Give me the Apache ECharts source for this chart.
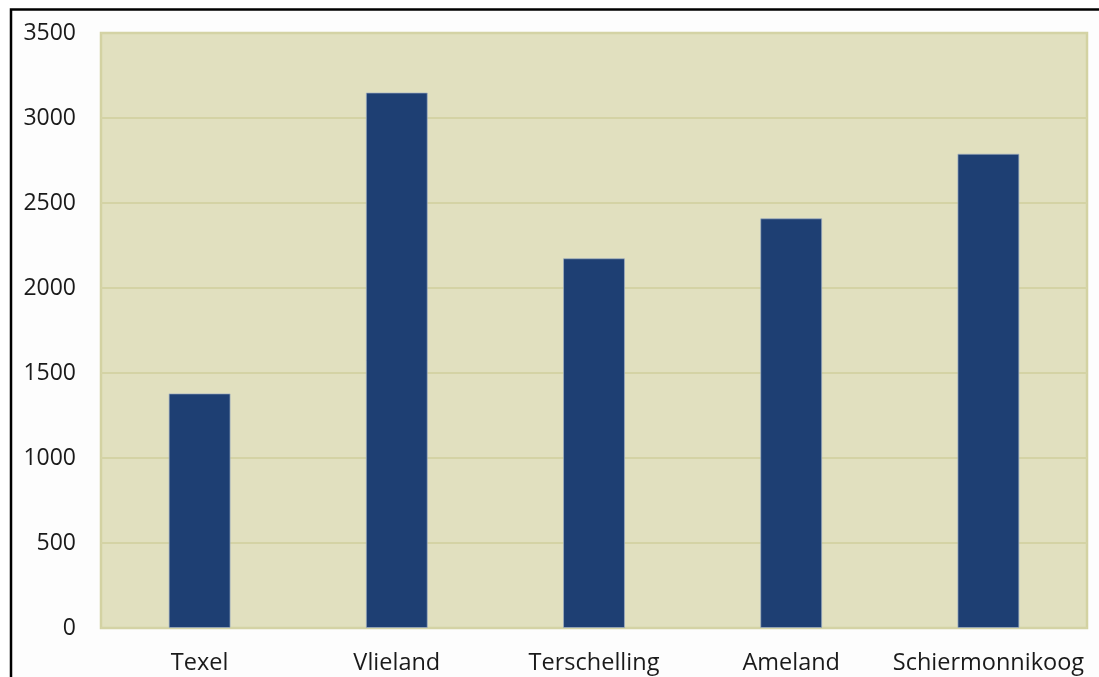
<!DOCTYPE html>
<html>
<head>
<meta charset="utf-8">
<script src="https://cdn.jsdelivr.net/npm/echarts@6/dist/echarts.min.js"></script>
<style>
  html, body { margin: 0; padding: 0; background: #ffffff; }
  #chart { width: 1099px; height: 677px; }
</style>
</head>
<body>
<div id="chart"></div>
<script>
// Wadden islands and their values
const islands = ['Texel', 'Vlieland', 'Terschelling', 'Ameland', 'Schiermonnikoog'];
const values = [1380, 3150, 2175, 2410, 2790];
const yTicks = [0, 500, 1000, 1500, 2000, 2500, 3000, 3500];

const chart = echarts.init(document.getElementById('chart'), null, { renderer: 'canvas' });

chart.setOption({
  backgroundColor: '#ffffff',
  animation: false,
  textStyle: { fontFamily: 'Open Sans' },
  graphic: [
    {
      // outer frame of the figure
      type: 'rect',
      z: -10,
      shape: { x: 11, y: 9.5, width: 1200, height: 800 },
      style: { fill: '#fdfdfd', stroke: '#000000', lineWidth: 2.5 }
    }
  ],
  grid: {
    left: 101,
    right: 12,
    top: 33,
    bottom: 49,
    show: true,
    backgroundColor: '#e1e0bf',
    borderColor: '#d3d2a2',
    borderWidth: 2.5
  },
  xAxis: {
    type: 'category',
    data: islands,
    axisLine: { show: false },
    axisTick: { show: false },
    axisLabel: {
      color: '#1a1a1a',
      fontSize: 23.5,
      fontFamily: 'Open Sans',
      margin: 23,
      interval: 0
    }
  },
  yAxis: {
    type: 'value',
    min: yTicks[0],
    max: yTicks[yTicks.length - 1],
    interval: yTicks[1] - yTicks[0],
    axisLine: { show: false },
    axisTick: { show: false },
    splitLine: { lineStyle: { color: '#d4d3a5', width: 2 } },
    axisLabel: {
      color: '#1a1a1a',
      fontSize: 23,
      fontFamily: 'Open Sans',
      margin: 25,
      formatter: (v) => String(v)
    }
  },
  series: [
    {
      type: 'bar',
      data: values,
      barWidth: '31.4%',
      itemStyle: {
        color: '#1e3f73',
        borderColor: 'rgba(160,175,195,0.7)',
        borderWidth: 1
      }
    }
  ]
});
</script>
</body>
</html>
